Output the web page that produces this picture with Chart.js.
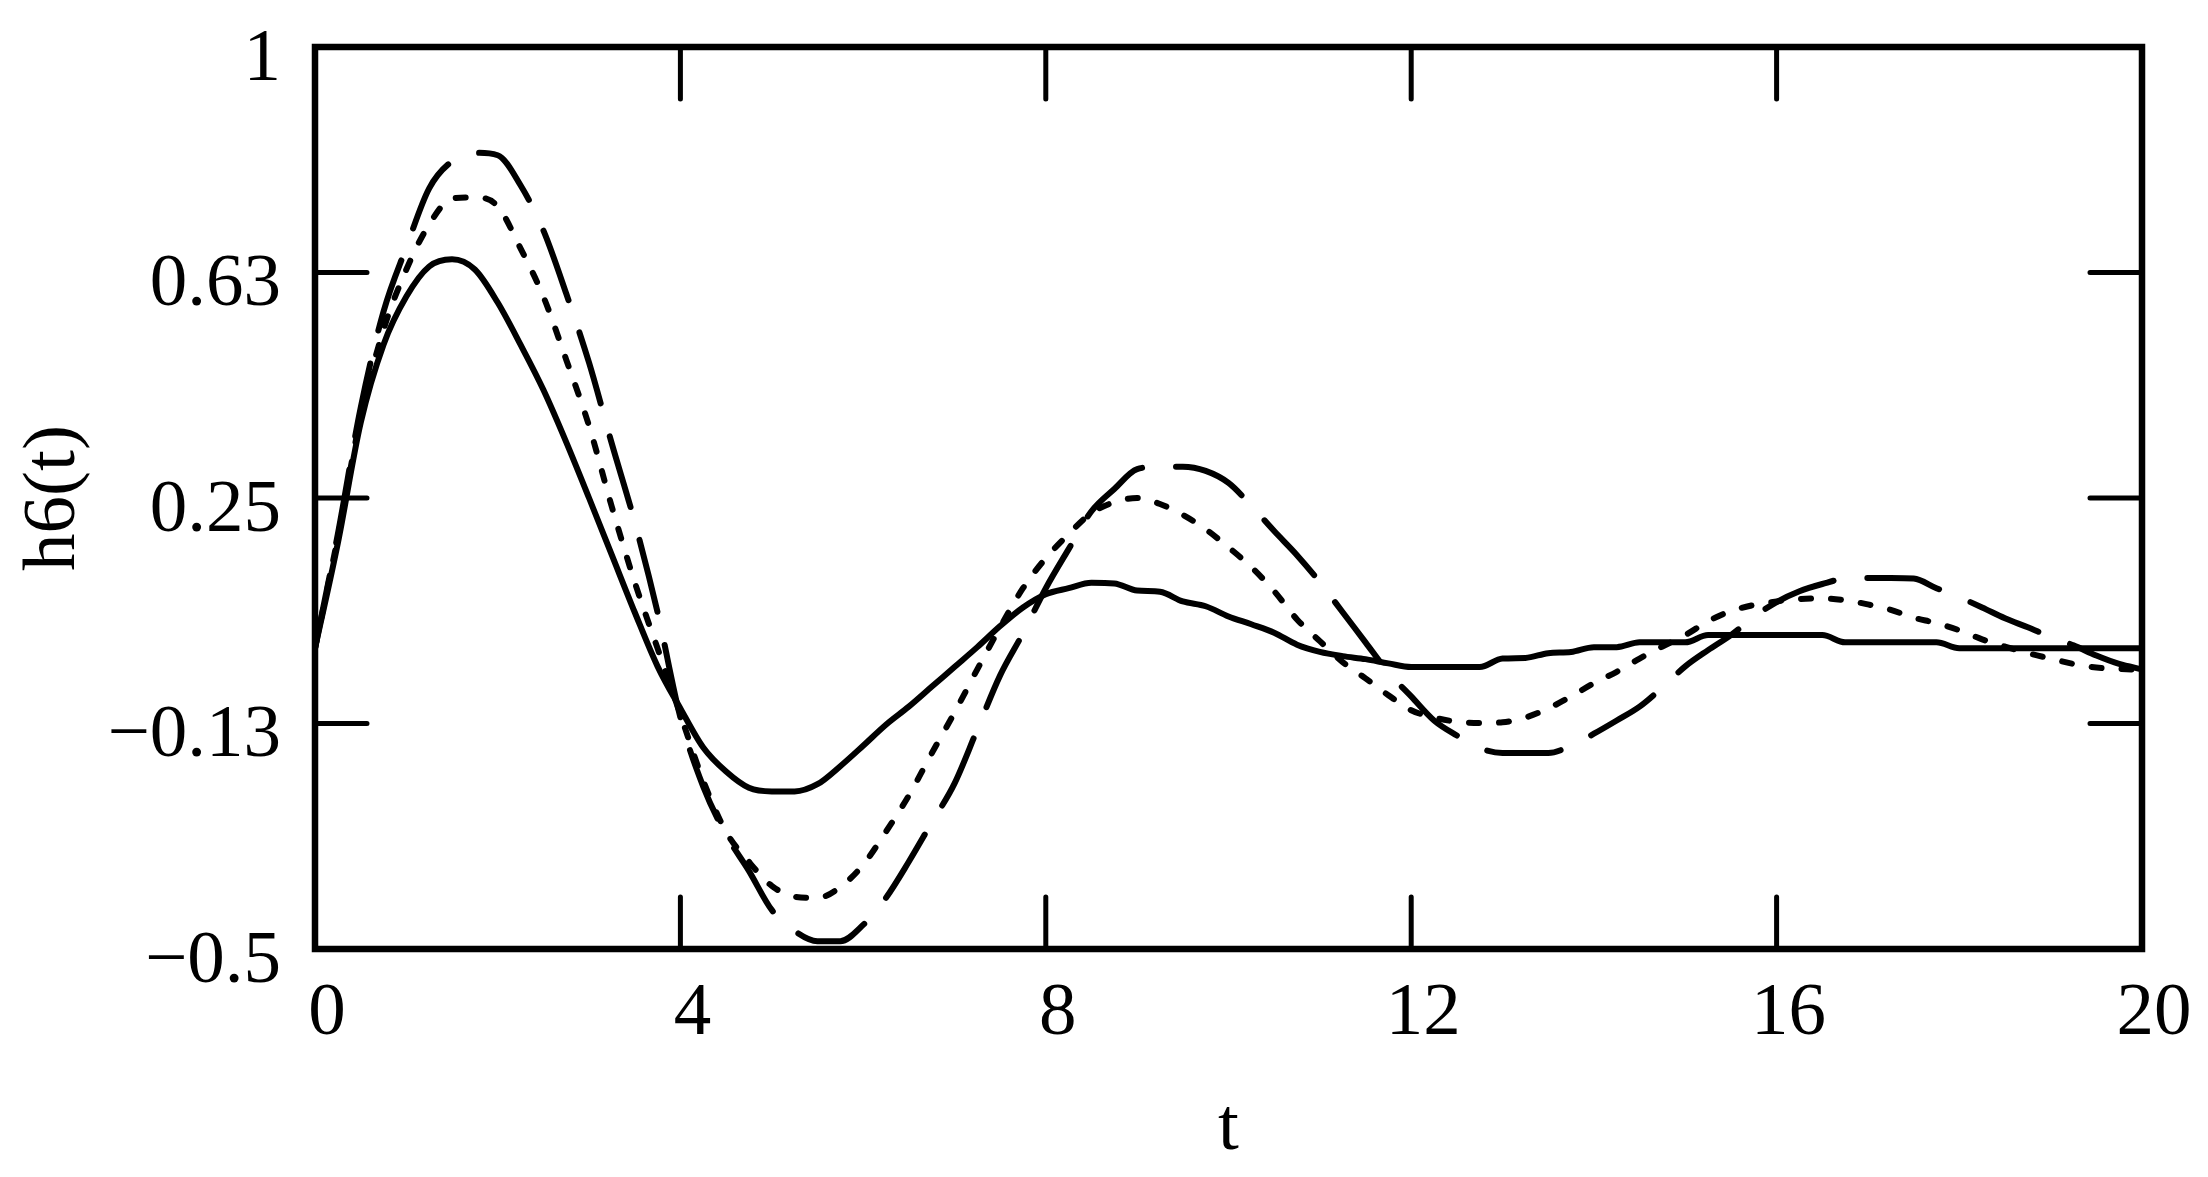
<!DOCTYPE html>
<html>
<head>
<meta charset="utf-8">
<title>h6(t)</title>
<script src="https://cdn.jsdelivr.net/npm/chart.js@4.4.1/dist/chart.umd.min.js"></script>
<style>
  html, body { margin: 0; padding: 0; background: #fff; }
</style>
</head>
<body>
<canvas id="myChart" width="2208" height="1177"></canvas>
<script>
// t axis samples (step 0.25)
const tValues = [
  0, 0.25, 0.5, 0.75, 1, 1.25, 1.5, 1.75, 2, 2.25, 2.5, 2.75, 3, 3.25, 3.5, 3.75,
  4, 4.25, 4.5, 4.75, 5, 5.25, 5.5, 5.75, 6, 6.25, 6.5, 6.75, 7, 7.25, 7.5, 7.75,
  8, 8.25, 8.5, 8.75, 9, 9.25, 9.5, 9.75, 10, 10.25, 10.5, 10.75, 11, 11.25, 11.5, 11.75,
  12, 12.25, 12.5, 12.75, 13, 13.25, 13.5, 13.75, 14, 14.25, 14.5, 14.75, 15, 15.25, 15.5, 15.75,
  16, 16.25, 16.5, 16.75, 17, 17.25, 17.5, 17.75, 18, 18.25, 18.5, 18.75, 19, 19.25, 19.5, 19.75, 20
]

// solid curve
const hSolid = [
  0, 0.175, 0.375, 0.505, 0.585, 0.635, 0.647, 0.63, 0.575, 0.505, 0.43, 0.343, 0.25, 0.155, 0.06, -0.03,
  -0.10, -0.165, -0.205, -0.232, -0.238, -0.238, -0.226, -0.196, -0.162, -0.127, -0.097, -0.064, -0.031, 0.002, 0.037, 0.068,
  0.09, 0.10, 0.109, 0.108, 0.096, 0.094, 0.078, 0.07, 0.053, 0.04, 0.026, 0.006, -0.006, -0.013, -0.018, -0.025,
  -0.031, -0.031, -0.031, -0.031, -0.017, -0.016, -0.008, -0.006, 0.002, 0.002, 0.01, 0.01, 0.01, 0.022, 0.022, 0.022,
  0.022, 0.022, 0.022, 0.01, 0.01, 0.01, 0.01, 0.01, 0, 0, 0, 0, 0, 0, 0, 0, 0
]

// short dashes
const hDotted = [
  0, 0.185, 0.385, 0.53, 0.63, 0.705, 0.748, 0.75, 0.735, 0.665, 0.585, 0.48, 0.37, 0.235, 0.11, 0.0,
  -0.11, -0.22, -0.305, -0.355, -0.395, -0.413, -0.415, -0.397, -0.36, -0.305, -0.245, -0.175, -0.107, -0.035, 0.035, 0.10,
  0.15, 0.19, 0.225, 0.243, 0.25, 0.24, 0.222, 0.198, 0.168, 0.135, 0.095, 0.048, 0.012, -0.023, -0.05, -0.078,
  -0.103, -0.115, -0.122, -0.124, -0.123, -0.115, -0.10, -0.08, -0.058, -0.039, -0.017, 0.003, 0.022, 0.045, 0.062, 0.072,
  0.078, 0.082, 0.083, 0.08, 0.073, 0.064, 0.051, 0.042, 0.03, 0.015, 0.003, -0.008, -0.017, -0.026, -0.032, -0.034, -0.036
]

// long dashes
const hDashed = [
  0, 0.19, 0.40, 0.56, 0.667, 0.765, 0.81, 0.824, 0.82, 0.77, 0.695, 0.59, 0.475, 0.34, 0.21, 0.06,
  -0.115, -0.23, -0.31, -0.37, -0.435, -0.47, -0.487, -0.487, -0.46, -0.415, -0.355, -0.29, -0.225, -0.135, -0.045, 0.025,
  0.10, 0.165, 0.228, 0.265, 0.298, 0.302, 0.302, 0.295, 0.275, 0.237, 0.195, 0.155, 0.11, 0.06, 0.01, -0.04,
  -0.08, -0.12, -0.145, -0.166, -0.174, -0.174, -0.174, -0.162, -0.142, -0.12, -0.097, -0.065, -0.03, -0.003, 0.022, 0.052,
  0.077, 0.095, 0.107, 0.116, 0.117, 0.117, 0.116, 0.10, 0.085, 0.068, 0.05, 0.035, 0.019, 0.005, -0.012, -0.026, -0.035
]

const xTickValues = [0, 4, 8, 12, 16, 20]
const xTickLabels = ['0', '4', '8', '12', '16', '20']
const yTickValues = [-0.5, -0.125, 0.25, 0.625, 1]
const yTickLabels = ['\u22120.5', '\u22120.13', '0.25', '0.63', '1']

const serif = { family: 'Liberation Serif', size: 75 }
const TICK_LEN = 52

const toPoints = (vals) => tValues.map((t, i) => ({ x: t, y: vals[i] }))

// mathcad style frame with inward ticks on all four sides
const frameTicks = {
  id: 'frameTicks',
  afterDatasetsDraw(chart) {
    const { ctx, chartArea: a, scales: { x, y } } = chart
    ctx.save()
    ctx.strokeStyle = '#000'
    ctx.lineWidth = 5
    ctx.lineCap = 'round'
    ctx.beginPath()
    xTickValues.forEach(v => {
      const px = x.getPixelForValue(v)
      ctx.moveTo(px, a.bottom); ctx.lineTo(px, a.bottom - TICK_LEN)
      ctx.moveTo(px, a.top); ctx.lineTo(px, a.top + TICK_LEN)
    })
    yTickValues.forEach(v => {
      const py = y.getPixelForValue(v)
      ctx.moveTo(a.left, py); ctx.lineTo(a.left + TICK_LEN, py)
      ctx.moveTo(a.right, py); ctx.lineTo(a.right - TICK_LEN, py)
    })
    ctx.stroke()
    ctx.lineWidth = 6.5
    ctx.lineCap = 'square'
    ctx.strokeRect(a.left, a.top, a.right - a.left, a.bottom - a.top)
    ctx.restore()
  }
}

const lineStyle = {
  pointRadius: 0,
  borderColor: '#000',
  borderWidth: 6,
  borderCapStyle: 'round',
  borderJoinStyle: 'round',
  cubicInterpolationMode: 'monotone',
  fill: false
}

const ctx = document.getElementById('myChart')
new Chart(ctx, {
  type: 'line',
  data: {
    datasets: [
      { ...lineStyle, label: 'solid', data: toPoints(hSolid) },
      { ...lineStyle, label: 'dotted', data: toPoints(hDotted), borderDash: [10, 20] },
      { ...lineStyle, label: 'dashed', data: toPoints(hDashed), borderDash: [74, 34] }
    ]
  },
  options: {
    responsive: false,
    animation: false,
    layout: { padding: { top: 47, right: 66, left: 0, bottom: 0 } },
    plugins: { legend: { display: false }, tooltip: { enabled: false } },
    scales: {
      x: {
        type: 'linear',
        min: 0,
        max: 20,
        afterBuildTicks: s => { s.ticks = xTickValues.map(v => ({ value: v })) },
        afterFit: s => { s.height = 228; s.paddingLeft = 0; s.paddingRight = 0 },
        grid: { display: false, drawTicks: false },
        border: { display: false },
        ticks: {
          font: serif,
          color: '#000',
          padding: 20,
          labelOffset: 12,
          maxRotation: 0,
          autoSkip: false,
          callback: (v, i) => xTickLabels[i]
        },
        title: { display: true, text: 't', font: serif, color: '#000', padding: { top: 0, bottom: 3 } }
      },
      y: {
        type: 'linear',
        min: -0.5,
        max: 1,
        afterBuildTicks: s => { s.ticks = yTickValues.map(v => ({ value: v })) },
        afterFit: s => { s.width = 315; s.paddingTop = 0; s.paddingBottom = 0 },
        grid: { display: false, drawTicks: false },
        border: { display: false },
        ticks: {
          font: serif,
          color: '#000',
          padding: 34,
          labelOffset: 13,
          autoSkip: false,
          callback: (v, i) => yTickLabels[i]
        },
        title: { display: true, text: 'h6(t)', font: serif, color: '#000', padding: { top: 9, bottom: 0 } }
      }
    }
  },
  plugins: [frameTicks]
})
</script>
</body>
</html>
